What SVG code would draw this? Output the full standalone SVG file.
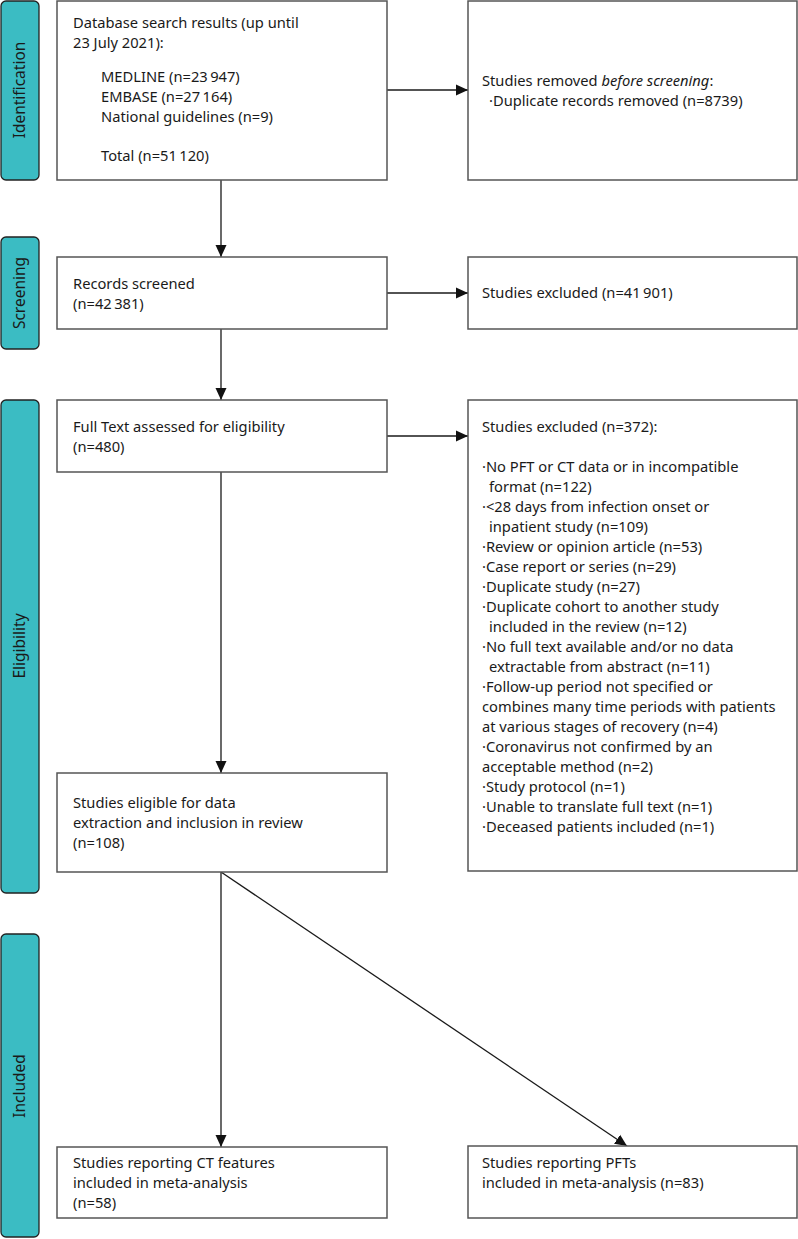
<svg xmlns="http://www.w3.org/2000/svg" width="798" height="1239" viewBox="0 0 798 1239">
<style>
text{font-family:"Noto Sans","Liberation Sans",sans-serif;font-size:14.7px;fill:#1a1a1a}
.band{fill:#3bbcc3;stroke:#222;stroke-width:1.3}
.bt{font-size:15.5px;text-anchor:middle}
.box{fill:#fff;stroke:#555;stroke-width:1.5}
.c{stroke:#1a1a1a;stroke-width:1.3;fill:none}
</style>
<defs>
<marker id="ah" markerUnits="userSpaceOnUse" markerWidth="12" markerHeight="12" refX="12" refY="6" orient="auto">
<path d="M0,0.5 L12,6 L0,11.5 z" fill="#111"/>
</marker>
</defs>
<g id="band-identification"><rect class="band" x="1" y="1" width="38" height="179" rx="5"/><text class="bt" transform="translate(25,90) rotate(-90)">Identification</text></g>
<g id="band-screening"><rect class="band" x="1" y="237" width="38" height="112" rx="5"/><text class="bt" transform="translate(25,293) rotate(-90)">Screening</text></g>
<g id="band-eligibility"><rect class="band" x="1" y="400" width="38" height="493" rx="5"/><text class="bt" transform="translate(25,646) rotate(-90)">Eligibility</text></g>
<g id="band-included"><rect class="band" x="1" y="934" width="38" height="303" rx="5"/><text class="bt" transform="translate(25,1086) rotate(-90)">Included</text></g>

<g id="connectors">
<line class="c" x1="387" y1="90" x2="468" y2="90" marker-end="url(#ah)"/>
<line class="c" x1="221" y1="180" x2="221" y2="257" marker-end="url(#ah)"/>
<line class="c" x1="387" y1="293" x2="468" y2="293" marker-end="url(#ah)"/>
<line class="c" x1="221" y1="329" x2="221" y2="400" marker-end="url(#ah)"/>
<line class="c" x1="387" y1="436" x2="468" y2="436" marker-end="url(#ah)"/>
<line class="c" x1="221" y1="472" x2="221" y2="773" marker-end="url(#ah)"/>
<line class="c" x1="221" y1="872" x2="221" y2="1147" marker-end="url(#ah)"/>
<line class="c" x1="221" y1="872" x2="627" y2="1146" marker-end="url(#ah)"/>
</g>

<g id="n-search"><rect class="box" x="57" y="1" width="330" height="179"/>
<text x="73" y="28">Database search results (up until</text>
<text x="73" y="48">23 July 2021):</text>
<text x="101" y="82">MEDLINE (n=23&#8201;947)</text>
<text x="101" y="102">EMBASE (n=27&#8201;164)</text>
<text x="101" y="122">National guidelines (n=9)</text>
<text x="101" y="161">Total (n=51&#8201;120)</text>
</g>
<g id="n-removed"><rect class="box" x="468" y="1" width="329" height="179"/>
<text x="482" y="86">Studies removed <tspan font-style="italic">before screening</tspan>:</text>
<text x="489" y="106">·Duplicate records removed (n=8739)</text>
</g>
<g id="n-screened"><rect class="box" x="57" y="257" width="330" height="72"/>
<text x="73" y="289">Records screened</text>
<text x="73" y="309">(n=42&#8201;381)</text>
</g>
<g id="n-excluded1"><rect class="box" x="468" y="257" width="329" height="72"/>
<text x="482" y="298">Studies excluded (n=41&#8201;901)</text>
</g>
<g id="n-fulltext"><rect class="box" x="57" y="400" width="330" height="72"/>
<text x="73" y="432">Full Text assessed for eligibility</text>
<text x="73" y="452">(n=480)</text>
</g>
<g id="n-excluded2"><rect class="box" x="468" y="400" width="329" height="471"/>
<text x="482" y="432">Studies excluded (n=372):</text>
<text x="482" y="472">·No PFT or CT data or in incompatible</text>
<text x="489" y="492">format (n=122)</text>
<text x="482" y="512">·&lt;28 days from infection onset or</text>
<text x="489" y="532">inpatient study (n=109)</text>
<text x="482" y="552">·Review or opinion article (n=53)</text>
<text x="482" y="572">·Case report or series (n=29)</text>
<text x="482" y="592">·Duplicate study (n=27)</text>
<text x="482" y="612">·Duplicate cohort to another study</text>
<text x="489" y="632">included in the review (n=12)</text>
<text x="482" y="652">·No full text available and/or no data</text>
<text x="489" y="672">extractable from abstract (n=11)</text>
<text x="482" y="692">·Follow-up period not specified or</text>
<text x="482" y="712">combines many time periods with patients</text>
<text x="482" y="732">at various stages of recovery (n=4)</text>
<text x="482" y="752">·Coronavirus not confirmed by an</text>
<text x="482" y="772">acceptable method (n=2)</text>
<text x="482" y="792">·Study protocol (n=1)</text>
<text x="482" y="812">·Unable to translate full text (n=1)</text>
<text x="482" y="832">·Deceased patients included (n=1)</text>
</g>
<g id="n-eligible"><rect class="box" x="57" y="773" width="330" height="99"/>
<text x="73" y="808">Studies eligible for data</text>
<text x="73" y="828">extraction and inclusion in review</text>
<text x="73" y="848">(n=108)</text>
</g>
<g id="n-ct"><rect class="box" x="57" y="1147" width="330" height="71"/>
<text x="73" y="1168">Studies reporting CT features</text>
<text x="73" y="1188">included in meta-analysis</text>
<text x="73" y="1208">(n=58)</text>
</g>
<g id="n-pft"><rect class="box" x="468" y="1146" width="329" height="72"/>
<text x="482" y="1168">Studies reporting PFTs</text>
<text x="482" y="1188">included in meta-analysis (n=83)</text>
</g>
</svg>
